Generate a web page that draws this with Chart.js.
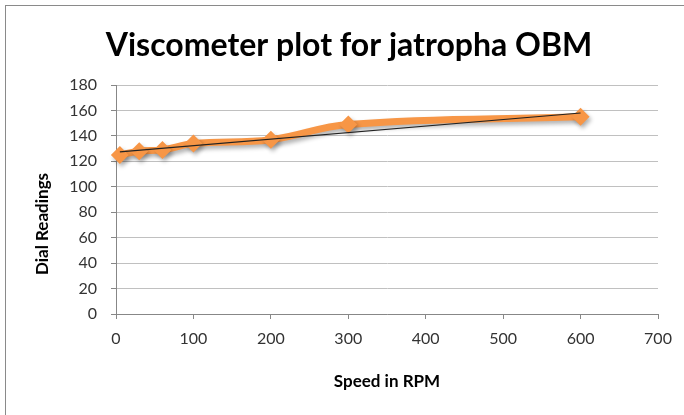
<!DOCTYPE html>
<html>
<head>
<meta charset="utf-8">
<script src="https://cdn.jsdelivr.net/npm/chart.js@4"></script>
<style>
html, body { margin: 0; padding: 0; background: #fff; overflow: hidden; }
#wrap { position: relative; width: 684px; height: 415px; }
#frame { position: absolute; left: 5px; top: 5px; width: 720px; height: 440px; border: 1px solid #8a8a8a; }
canvas { position: absolute; left: 0; top: 0; }
</style>
</head>
<body>
<div id="wrap">
  <div id="frame"></div>
  <canvas id="chart" width="684" height="415"></canvas>
</div>
<script>
// valores
const speeds = [5, 30, 60, 100, 200, 300, 600];
const readings = [125, 128, 129, 134, 137, 149, 155];
// linea de tendencia (extremos leidos)
const trendSpeeds = [5, 600];
const trendReadings = [127.5, 158];

const xTicks = [0, 100, 200, 300, 400, 500, 600, 700];
const yTicks = [0, 20, 40, 60, 80, 100, 120, 140, 160, 180];

const orange = '#F79646';
const tickFont = { family: 'Lato', size: 16 };

// sombra para la serie naranja
const shadowPlugin = {
    id: 'shadow',
    beforeDatasetDraw(chart, args) {
        if (args.index !== 0) return;
        const ctx = chart.ctx;
        ctx.save();
        ctx.shadowColor = 'rgba(0,0,0,0.3)';
        ctx.shadowBlur = 4;
        ctx.shadowOffsetX = 2;
        ctx.shadowOffsetY = 3;
    },
    afterDatasetDraw(chart, args) {
        if (args.index !== 0) return;
        chart.ctx.restore();
    }
};

// titulo del eje Y (un poco por debajo del centro, como en el original)
const yTitlePlugin = {
    id: 'yTitle',
    afterDraw(chart) {
        const ctx = chart.ctx;
        ctx.save();
        ctx.translate(43, 224);
        ctx.rotate(-Math.PI / 2);
        ctx.font = 'bold 17px Lato';
        ctx.fillStyle = '#000';
        ctx.textAlign = 'center';
        ctx.textBaseline = 'middle';
        ctx.fillText('Dial Readings', 0, 0);
        ctx.restore();
    }
};

const ctx = document.getElementById('chart').getContext('2d');
const chart = new Chart(ctx, {
    type: 'line',
    data: {
        datasets: [
            {
                label: 'Dial Readings',
                data: speeds.map((s, i) => ({ x: s, y: readings[i] })),
                borderColor: orange,
                backgroundColor: orange,
                borderWidth: 7,
                tension: 0.4,
                pointStyle: 'rectRot',
                pointRadius: 9,
                pointBorderWidth: 0,
                pointBackgroundColor: orange,
                clip: false,
                order: 1
            },
            {
                label: 'Linear',
                data: trendSpeeds.map((s, i) => ({ x: s, y: trendReadings[i] })),
                borderColor: '#222',
                borderWidth: 1.2,
                pointRadius: 0,
                tension: 0,
                clip: false,
                order: 0
            }
        ]
    },
    options: {
        responsive: false,
        animation: false,
        layout: { padding: { left: 40, right: 26, top: 0, bottom: 0 } },
        plugins: {
            legend: { display: false },
            tooltip: { enabled: false },
            title: {
                display: true,
                text: 'Viscometer plot for jatropha OBM',
                color: '#000',
                font: { family: 'Lato', size: 32, weight: 'bold' },
                padding: { top: 26, bottom: 20.6 }
            }
        },
        scales: {
            x: {
                type: 'linear',
                min: 0,
                max: 700,
                afterBuildTicks: (scale) => { scale.ticks = xTicks.map(v => ({ value: v })); },
                afterFit: (scale) => { scale.height = 101; },
                grid: { drawOnChartArea: false, drawTicks: true, tickLength: 5, tickColor: '#878787' },
                border: { color: '#878787' },
                ticks: { color: '#333', font: tickFont, padding: 10, maxRotation: 0 },
                title: {
                    display: true,
                    text: 'Speed in RPM',
                    color: '#000',
                    font: { family: 'Lato', size: 17, weight: 'bold' },
                    padding: { top: 0, bottom: 23 }
                }
            },
            y: {
                min: 0,
                max: 180,
                afterBuildTicks: (scale) => { scale.ticks = yTicks.map(v => ({ value: v })); },
                afterFit: (scale) => { scale.width = 76; },
                grid: { color: '#c0c0c0', tickLength: 5, tickColor: '#878787' },
                border: { color: '#878787' },
                ticks: { color: '#333', font: tickFont, padding: 14 }
            }
        }
    },
    plugins: [shadowPlugin, yTitlePlugin]
});
</script>
</body>
</html>
